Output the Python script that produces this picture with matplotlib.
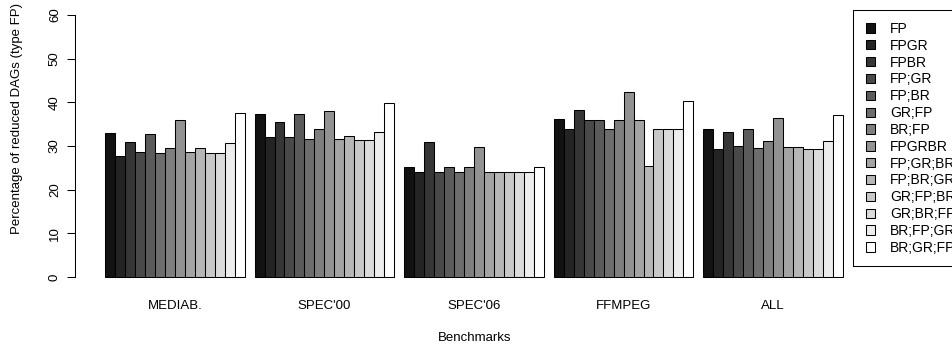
import numpy as np
import matplotlib
matplotlib.use("Agg")
import matplotlib.pyplot as plt
from matplotlib.patches import Patch, Rectangle

plt.rcParams['font.family'] = ['Liberation Sans', 'DejaVu Sans']

benchmarks = ["MEDIAB.", "SPEC'00", "SPEC'06", "FFMPEG", "ALL"]
strategies = ["FP", "FPGR", "FPBR", "FP;GR", "FP;BR", "GR;FP", "BR;FP", "FPGRBR",
              "FP;GR;BR", "FP;BR;GR", "GR;FP;BR", "GR;BR;FP", "BR;FP;GR", "BR;GR;FP"]

# percentage of reduced DAGs, one row per benchmark, one column per strategy
mediab = [32.9, 27.7, 30.9, 28.7, 32.8, 28.3, 29.6, 36.0, 28.7, 29.6, 28.3, 28.3, 30.6, 37.6]
spec00 = [37.3, 32.0, 35.5, 32.0, 37.3, 31.7, 33.9, 38.0, 31.7, 32.3, 31.4, 31.4, 33.3, 39.9]
spec06 = [25.3, 24.0, 30.9, 24.0, 25.1, 24.0, 25.1, 29.7, 24.0, 24.0, 24.0, 24.0, 24.0, 25.1]
ffmpeg = [36.1, 33.9, 38.2, 36.0, 36.0, 33.9, 36.0, 42.4, 36.0, 25.4, 33.9, 33.9, 33.9, 40.2]
all_bm = [34.0, 29.4, 33.2, 29.9, 34.0, 29.5, 31.2, 36.4, 29.8, 29.8, 29.4, 29.4, 31.1, 37.2]
values = np.array([mediab, spec00, spec06, ffmpeg, all_bm])

n_groups, n_bars = values.shape
colors = [str(g) for g in np.linspace(0.07, 1.0, n_bars)]

W, H = 953, 347
fig = plt.figure(figsize=(W / 100, H / 100), dpi=100)
ax = fig.add_axes([0.0792, 0.1715, 0.8363, 0.8155])

# barplot layout: one empty bar width before every group
for g in range(n_groups):
    left = 1 + g * (n_bars + 1)
    x = left + np.arange(n_bars) + 0.5
    ax.bar(x, values[g], width=1.0, color=colors, edgecolor='black', linewidth=0.75)

ax.set_xlim(-1.96, 77.96)
ax.set_ylim(-2.4, 62.4)

for s in ['top', 'right', 'bottom']:
    ax.spines[s].set_visible(False)
ax.spines['left'].set_bounds(0, 60)
ax.spines['left'].set_linewidth(0.75)

ax.set_yticks(np.arange(0, 61, 10))
ax.tick_params(axis='y', length=5.5, width=0.75, pad=5, labelsize=9.5)
for lab in ax.get_yticklabels():
    lab.set_rotation(90)
    lab.set_va('center')

centers = [1 + g * (n_bars + 1) + n_bars / 2 for g in range(n_groups)]
ax.set_xticks(centers)
ax.set_xticklabels(benchmarks)
ax.tick_params(axis='x', length=0, pad=9, labelsize=9.5)

fig.text(475 / W, 1 - 338 / H, "Benchmarks", ha='center', va='center', fontsize=9.5)
fig.text(17 / W, 1 - 119 / H, "Percentage of reduced DAGs (type FP)",
         rotation=90, ha='center', va='center', fontsize=9.5)

# legend runs past the right edge of the figure; frame drawn separately
handles = [Patch(facecolor=c, edgecolor='black', linewidth=0.75) for c in colors]
leg = fig.legend(handles, strategies, loc='upper left',
                 bbox_to_anchor=(861 / W, 1 - 16.7 / H),
                 fontsize=10, frameon=False,
                 handlelength=0.65, handleheight=0.65, handletextpad=1.08,
                 labelspacing=0.205, borderpad=0.37, borderaxespad=0)
fig.patches.append(Rectangle((853 / W, 1 - 266 / H), 130 / W, 256 / H,
                             transform=fig.transFigure, fill=False,
                             edgecolor='black', linewidth=0.75))

fig.savefig("out.png", dpi=100)
